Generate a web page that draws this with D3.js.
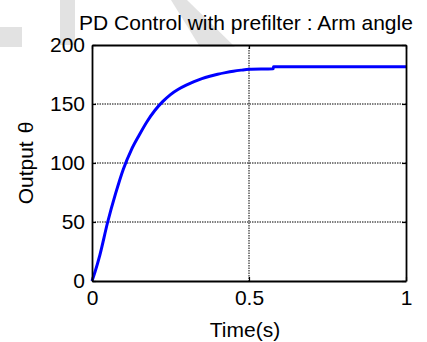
<!DOCTYPE html>
<html>
<head>
<meta charset="utf-8">
<script src="https://cdn.jsdelivr.net/npm/d3@7"></script>
<style>
  html, body { margin: 0; padding: 0; background: #fff; }
  svg { display: block; }
  text { font-family: "Liberation Sans", Arial, sans-serif; fill: #000; }
</style>
</head>
<body>
<svg id="chart" width="427" height="342"></svg>
<script>
// Step response of the arm angle under PD control with a prefilter
const timeS = [0, 0.01, 0.025, 0.05, 0.075, 0.1, 0.125, 0.15, 0.175, 0.2, 0.225, 0.25, 0.275, 0.3, 0.325, 0.35, 0.375, 0.4, 0.425, 0.45, 0.475, 0.5, 0.577, 0.578, 1.0];
const thetaOut = [0, 8, 22, 50, 74, 95, 111, 123.5, 135, 144.5, 152, 158, 162.5, 166, 169, 171.5, 173.5, 175.2, 176.6, 177.8, 178.7, 179.4, 179.8, 181.6, 181.6];

const xTicks = [0, 0.5, 1];
const yTicks = [0, 50, 100, 150, 200];
const titleText = "PD Control with prefilter : Arm angle";
const xLabel = "Time(s)";
const yLabelWord = "Output";
const yLabelSym = "\u03b8";

const svg = d3.select("#chart");
const W = 427, H = 342;
const m = { left: 92, right: W - 406, top: 45, bottom: H - 281 };
const pw = W - m.left - m.right, ph = H - m.top - m.bottom;

// background decoration shapes (light grey)
const deco = svg.append("g").attr("fill", "#e2e2e2");
deco.append("rect").attr("x", 0).attr("y", 27).attr("width", 22).attr("height", 20);
deco.append("rect").attr("x", 60).attr("y", 0).attr("width", 15).attr("height", 45);
deco.append("polygon").attr("points", "171,0 187,0 235,47 200,47");

const x = d3.scaleLinear().domain([0, 1]).range([m.left, m.left + pw]);
const y = d3.scaleLinear().domain([0, 200]).range([m.top + ph, m.top]);

const g = svg.append("g");

// dotted grid
g.append("g").selectAll("line").data(xTicks.filter(d => d > 0 && d < 1)).join("line")
  .attr("x1", d => x(d)).attr("x2", d => x(d))
  .attr("y1", m.top).attr("y2", m.top + ph)
  .attr("stroke", "#000").attr("stroke-width", 1).attr("stroke-dasharray", "1.5,1");
g.append("g").selectAll("line").data(yTicks.filter(d => d > 0 && d < 200)).join("line")
  .attr("x1", m.left).attr("x2", m.left + pw)
  .attr("y1", d => y(d)).attr("y2", d => y(d))
  .attr("stroke", "#000").attr("stroke-width", 1).attr("stroke-dasharray", "1.5,1");

// response curve
const line = d3.line().x((d, i) => x(timeS[i])).y(d => y(d)).curve(d3.curveMonotoneX);
g.append("path").datum(thetaOut)
  .attr("d", line)
  .attr("fill", "none").attr("stroke", "#0000ff").attr("stroke-width", 3)
  .attr("stroke-linejoin", "round");

// axes (ticks pointing inward, box around the plot)
const axB = d3.axisBottom(x).tickValues(xTicks).tickSizeInner(-4).tickSizeOuter(0).tickPadding(9)
  .tickFormat(d3.format("~g"));
const axL = d3.axisLeft(y).tickValues(yTicks).tickSizeInner(-4).tickSizeOuter(0).tickPadding(7);
const axT = d3.axisTop(x).tickValues(xTicks).tickSizeInner(-4).tickSizeOuter(0).tickFormat("");
const axR = d3.axisRight(y).tickValues(yTicks).tickSizeInner(-4).tickSizeOuter(0).tickFormat("");

function style(sel) {
  sel.selectAll("path").attr("stroke", "#000").attr("stroke-width", 1.8);
  sel.selectAll("line").attr("stroke", "#000").attr("stroke-width", 1.2);
  sel.selectAll("text").style("font-size", "21px").attr("fill", "#000");
}
g.append("g").attr("transform", `translate(0,${m.top + ph})`).call(axB).call(style);
g.append("g").attr("transform", `translate(${m.left},0)`).call(axL).call(style);
g.append("g").attr("transform", `translate(0,${m.top})`).call(axT).call(style);
g.append("g").attr("transform", `translate(${m.left + pw},0)`).call(axR).call(style);

// titles
svg.append("text").attr("x", m.left + pw / 2 - 3).attr("y", 29.5)
  .attr("text-anchor", "middle").style("font-size", "21px").text(titleText);
svg.append("text").attr("x", m.left + pw / 2 - 4).attr("y", 337)
  .attr("text-anchor", "middle").style("font-size", "21px").text(xLabel);
const yl = svg.append("text")
  .attr("transform", `translate(33,${m.top + ph / 2}) rotate(-90)`)
  .attr("text-anchor", "middle").style("font-size", "21px");
yl.append("tspan").text(yLabelWord);
yl.append("tspan").attr("dx", 8).text(yLabelSym);
</script>
</body>
</html>
